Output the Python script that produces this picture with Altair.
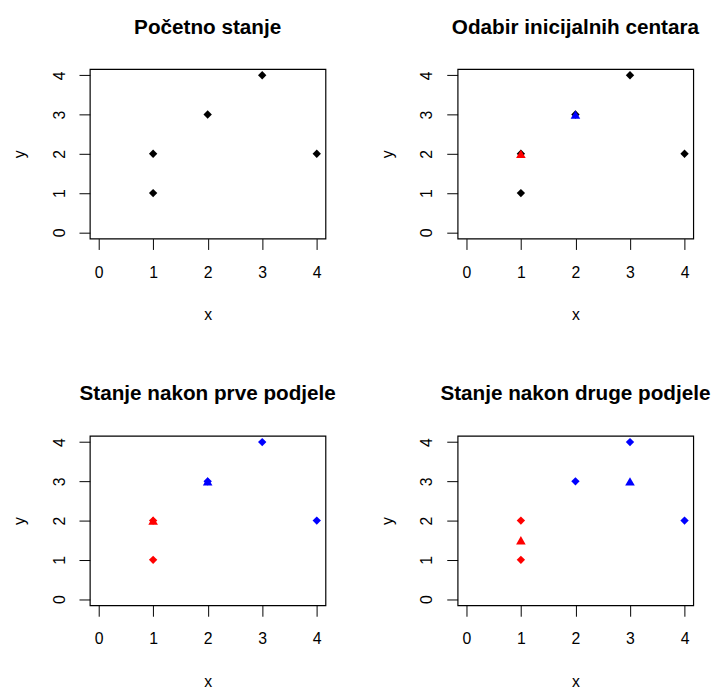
import altair as alt
import pandas as pd

# data points
px = [1, 1, 2, 3, 4]
py = [1, 2, 3, 4, 2]

titles = ["Početno stanje", "Odabir inicijalnih centara",
          "Stanje nakon prve podjele", "Stanje nakon druge podjele"]

point_colors = [
    ["black", "black", "black", "black", "black"],
    ["black", "black", "black", "black", "black"],
    ["red", "red", "blue", "blue", "blue"],
    ["red", "red", "blue", "blue", "blue"],
]

center_x = [[], [1, 2], [1, 2], [1, 3]]
center_y = [[], [2, 3], [2, 3], [1.5, 3]]
center_colors = [[], ["red", "blue"], ["red", "blue"], ["red", "blue"]]

ticks = [0, 1, 2, 3, 4]
DOM = [-0.16, 4.16]
W, H = 239, 172
FONT = "Liberation Sans"

xaxis = alt.Axis(values=ticks, domain=False, grid=False, ticks=True, tickSize=11,
                 tickColor="black", labelPadding=23, labelBaseline="middle",
                 labelFontSize=16, labelColor="black", labelFont=FONT,
                 title="x", titleFontSize=16, titleFontWeight="normal", titleFont=FONT,
                 titleColor="black", titleY=77, titleBaseline="middle")
yaxis = alt.Axis(values=ticks, domain=False, grid=False, ticks=True, tickSize=11,
                 tickColor="black", labelPadding=20, labelAngle=270, labelAlign="center",
                 labelBaseline="middle", labelFontSize=16, labelColor="black", labelFont=FONT,
                 title="y", titleFontSize=16, titleFontWeight="normal", titleFont=FONT,
                 titleColor="black", titleX=-71, titleY=H / 2, titleAngle=270,
                 titleAlign="center", titleBaseline="middle")


def panel(i):
    dp = pd.DataFrame({"x": px, "y": py, "c": point_colors[i]})
    xs = alt.X("x:Q", scale=alt.Scale(domain=DOM, nice=False, zero=False), axis=xaxis)
    ys = alt.Y("y:Q", scale=alt.Scale(domain=DOM, nice=False, zero=False), axis=yaxis)
    pts = alt.Chart(dp).mark_point(shape="diamond", filled=True, size=72, opacity=1).encode(
        x=xs, y=ys, color=alt.Color("c:N", scale=None))
    layers = [pts]
    if center_x[i]:
        dc = pd.DataFrame({"x": center_x[i], "y": center_y[i], "c": center_colors[i]})
        cen = alt.Chart(dc).mark_point(shape="triangle-up", filled=True, size=95, opacity=1).encode(
            x=xs, y=ys, color=alt.Color("c:N", scale=None))
        layers.append(cen)
    return alt.layer(*layers).properties(
        width=W, height=H,
        view=alt.ViewBackground(stroke="black", strokeWidth=1.2, fill="white"),
        title=alt.TitleParams(titles[i], fontSize=21, fontWeight="bold", font=FONT,
                              color="black", anchor="middle", baseline="alphabetic", offset=15),
    )


chart = alt.concat(*[panel(i) for i in range(4)], columns=2,
                   spacing={"row": 200, "column": 134}, bounds="flush").properties(
    padding={"left": 3, "top": 3, "right": 0, "bottom": 0}
).configure_view(
    stroke="black", strokeWidth=1.2
).configure(background="white")

chart.save("out.html", embed_options={"renderer": "svg", "actions": False})
